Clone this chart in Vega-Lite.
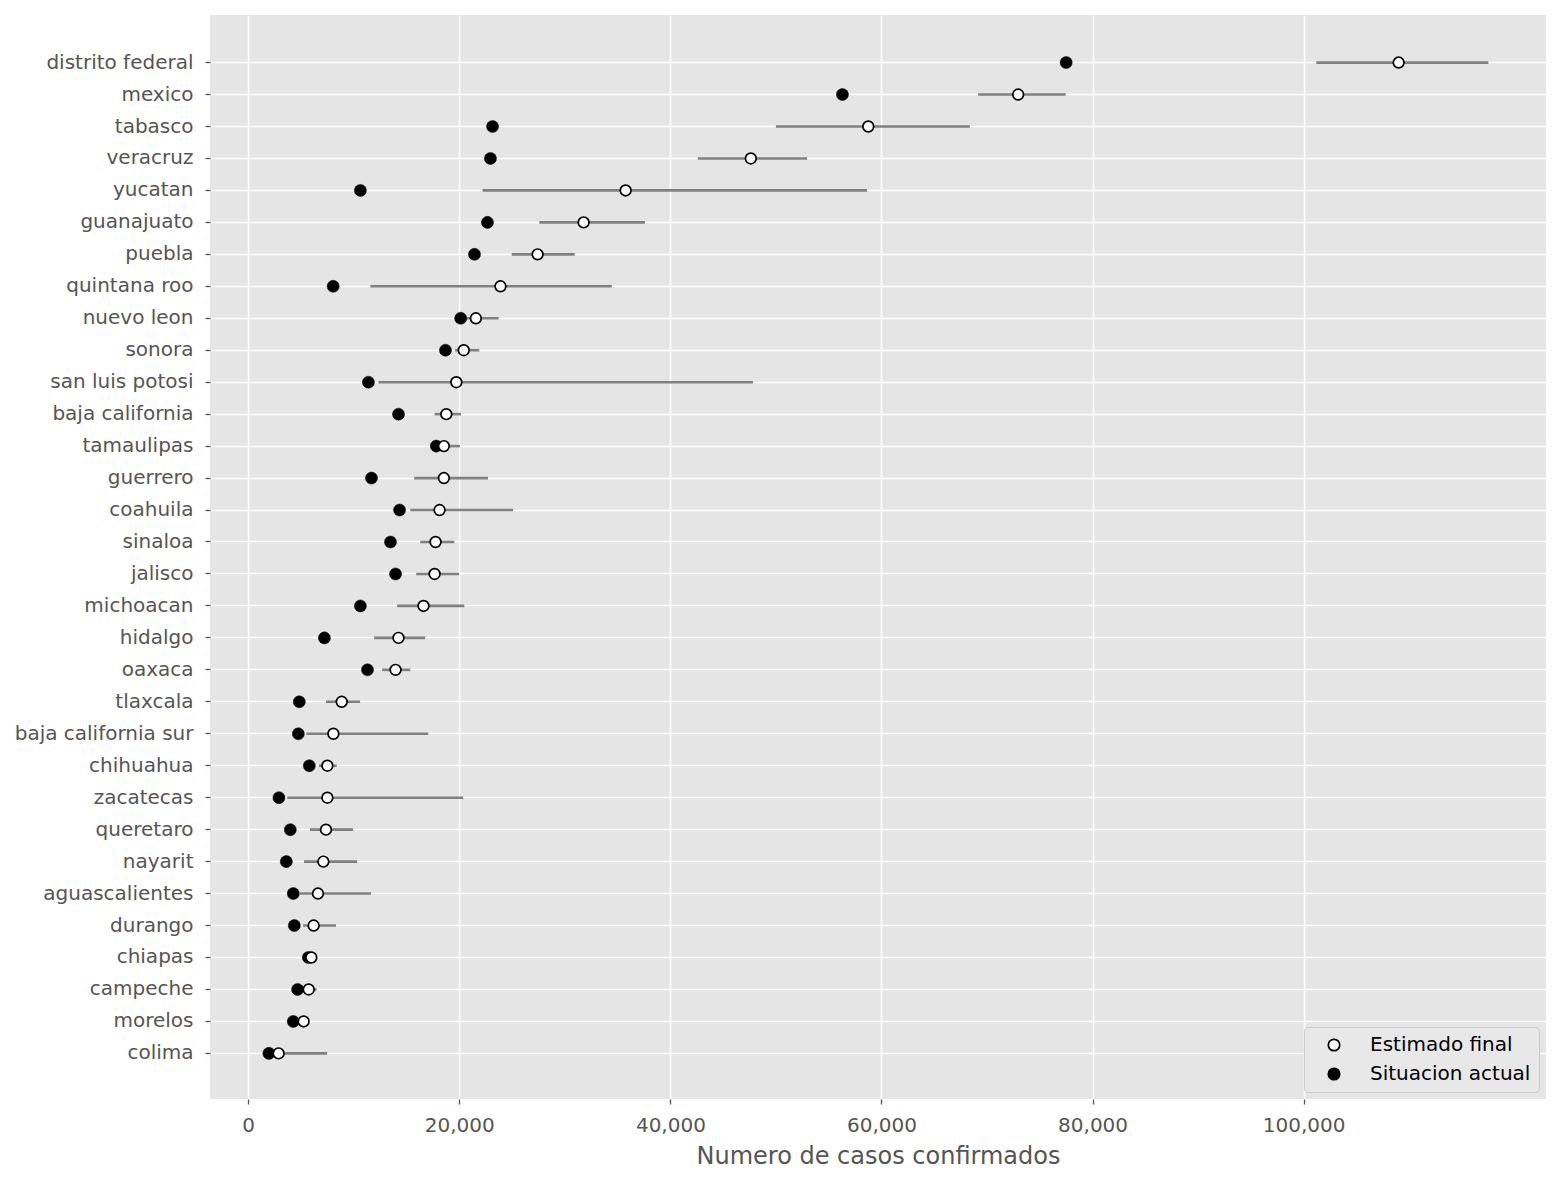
{
  "$schema": "https://vega.github.io/schema/vega-lite/v6.json",
  "autosize": "none",
  "width": 1336,
  "height": 1084,
  "padding": {"left": 210, "top": 15, "right": 15, "bottom": 82},
  "background": "white",
  "data": {
    "values": [
      {"estado": "distrito federal", "actual": 77500, "estimado": 109000, "lo": 101200, "hi": 117500},
      {"estado": "mexico", "actual": 56300, "estimado": 72950, "lo": 69150, "hi": 77450},
      {"estado": "tabasco", "actual": 23150, "estimado": 58750, "lo": 50000, "hi": 68370},
      {"estado": "veracruz", "actual": 22950, "estimado": 47620, "lo": 42600, "hi": 52950},
      {"estado": "yucatan", "actual": 10630, "estimado": 35760, "lo": 22200, "hi": 58630},
      {"estado": "guanajuato", "actual": 22670, "estimado": 31780, "lo": 27590, "hi": 37590},
      {"estado": "puebla", "actual": 21440, "estimado": 27420, "lo": 24960, "hi": 30930},
      {"estado": "quintana roo", "actual": 8050, "estimado": 23900, "lo": 11570, "hi": 34450},
      {"estado": "nuevo leon", "actual": 20130, "estimado": 21570, "lo": 20500, "hi": 23730},
      {"estado": "sonora", "actual": 18690, "estimado": 20420, "lo": 19600, "hi": 21900},
      {"estado": "san luis potosi", "actual": 11390, "estimado": 19720, "lo": 12340, "hi": 47830},
      {"estado": "baja california", "actual": 14240, "estimado": 18770, "lo": 17660, "hi": 20160},
      {"estado": "tamaulipas", "actual": 17820, "estimado": 18540, "lo": 17900, "hi": 20060},
      {"estado": "guerrero", "actual": 11680, "estimado": 18540, "lo": 15730, "hi": 22720},
      {"estado": "coahuila", "actual": 14340, "estimado": 18130, "lo": 15350, "hi": 25100},
      {"estado": "sinaloa", "actual": 13480, "estimado": 17750, "lo": 16300, "hi": 19530},
      {"estado": "jalisco", "actual": 13960, "estimado": 17660, "lo": 15920, "hi": 19970},
      {"estado": "michoacan", "actual": 10630, "estimado": 16610, "lo": 14110, "hi": 20480},
      {"estado": "hidalgo", "actual": 7220, "estimado": 14240, "lo": 11930, "hi": 16770},
      {"estado": "oaxaca", "actual": 11300, "estimado": 13960, "lo": 12690, "hi": 15350},
      {"estado": "tlaxcala", "actual": 4840, "estimado": 8860, "lo": 7370, "hi": 10600},
      {"estado": "baja california sur", "actual": 4750, "estimado": 8070, "lo": 5500, "hi": 17060},
      {"estado": "chihuahua", "actual": 5790, "estimado": 7500, "lo": 6700, "hi": 8390},
      {"estado": "zacatecas", "actual": 2910, "estimado": 7500, "lo": 3700, "hi": 20380},
      {"estado": "queretaro", "actual": 3990, "estimado": 7370, "lo": 5850, "hi": 9940},
      {"estado": "nayarit", "actual": 3610, "estimado": 7120, "lo": 5290, "hi": 10320},
      {"estado": "aguascalientes", "actual": 4270, "estimado": 6610, "lo": 4900, "hi": 11650},
      {"estado": "durango", "actual": 4370, "estimado": 6200, "lo": 5200, "hi": 8320},
      {"estado": "chiapas", "actual": 5700, "estimado": 5980, "lo": 5650, "hi": 6200},
      {"estado": "campeche", "actual": 4680, "estimado": 5730, "lo": 5100, "hi": 6490},
      {"estado": "morelos", "actual": 4270, "estimado": 5250, "lo": 4600, "hi": 5550},
      {"estado": "colima", "actual": 1960, "estimado": 2880, "lo": 2300, "hi": 7470}
    ]
  },
  "encoding": {
    "y": {
      "field": "estado",
      "type": "nominal",
      "sort": null,
      "scale": {"type": "band", "paddingInner": 0, "paddingOuter": 0.958, "align": 0.516, "round": false},
      "axis": {"title": null, "labelPadding": 12, "bandPosition": 0.5, "grid": true}
    }
  },
  "layer": [
    {
      "mark": {"type": "rule", "color": "#808080", "strokeWidth": 2.6},
      "encoding": {
        "x": {
          "field": "lo",
          "type": "quantitative",
          "scale": {"domain": [-3620, 122960], "nice": false, "zero": false},
          "axis": {
            "title": "Numero de casos confirmados",
            "values": [0, 20000, 40000, 60000, 80000, 100000],
            "format": ",d",
            "labelPadding": 11,
            "titlePadding": 9
          }
        },
        "x2": {"field": "hi"}
      }
    },
    {
      "mark": {"type": "point", "shape": "circle", "filled": true, "size": 145, "stroke": "black", "strokeWidth": 0.5, "opacity": 1},
      "encoding": {
        "x": {"field": "actual", "type": "quantitative"},
        "fill": {
          "datum": "Situacion actual",
          "type": "nominal",
          "scale": {"domain": ["Estimado final", "Situacion actual"], "range": ["white", "black"]},
          "legend": {
            "title": null,
            "orient": "bottom-right",
            "offset": 7,
            "padding": 8,
            "fillColor": "#e8e8e8",
            "strokeColor": "#cccccc",
            "cornerRadius": 4,
            "labelFontSize": 20,
            "labelColor": "black",
            "labelFont": "DejaVu Sans",
            "labelOffset": 26,
            "symbolOffset": 12,
            "symbolSize": 130,
            "symbolStrokeColor": "black",
            "symbolStrokeWidth": 1.7,
            "symbolType": "circle",
            "rowPadding": 9,
            "labelLimit": 400
          }
        }
      }
    },
    {
      "mark": {"type": "point", "shape": "circle", "filled": true, "size": 115, "stroke": "black", "strokeWidth": 1.7, "opacity": 1},
      "encoding": {
        "x": {"field": "estimado", "type": "quantitative"},
        "fill": {"datum": "Estimado final", "type": "nominal"}
      }
    }
  ],
  "config": {
    "view": {"fill": "#E5E5E5", "stroke": null},
    "font": "DejaVu Sans",
    "axis": {
      "domain": false,
      "grid": true,
      "gridColor": "white",
      "gridWidth": 1.5,
      "gridOpacity": 1,
      "tickColor": "#555555",
      "tickSize": 5,
      "tickWidth": 1.3,
      "labelColor": "#555555",
      "labelFont": "DejaVu Sans",
      "labelFontSize": 20,
      "titleFont": "DejaVu Sans",
      "titleFontSize": 24,
      "titleFontWeight": "normal",
      "titleColor": "#555555"
    }
  }
}
